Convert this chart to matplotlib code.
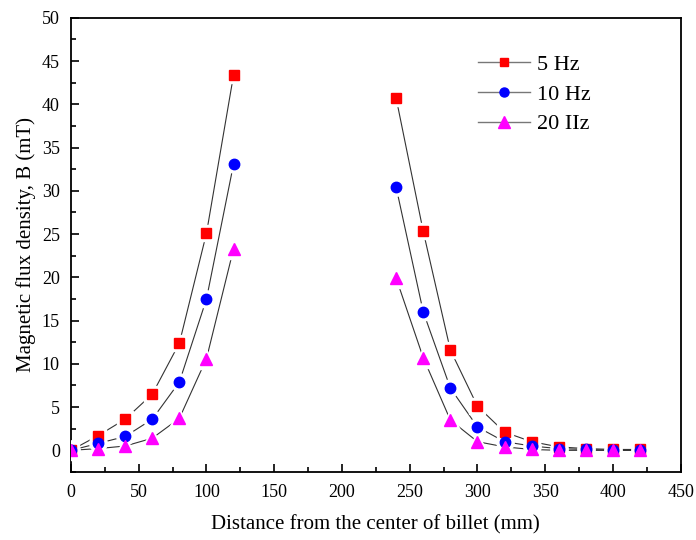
import matplotlib
matplotlib.use("Agg")
import matplotlib.pyplot as plt
from matplotlib.ticker import MultipleLocator

plt.rcParams['font.family'] = ['Liberation Serif', 'DejaVu Serif']

x_left = [0, 20, 40, 60, 80, 100, 120]
x_right = [240, 260, 280, 300, 320, 340, 360, 380, 400, 420]

b5_left = [0.0, 1.7, 3.6, 6.5, 12.4, 25.1, 43.4]
b5_right = [40.7, 25.3, 11.6, 5.1, 2.1, 1.0, 0.4, 0.2, 0.1, 0.1]
b10_left = [0.0, 0.8, 1.6, 3.6, 7.9, 17.5, 33.1]
b10_right = [30.4, 16.0, 7.2, 2.7, 1.0, 0.5, 0.2, 0.1, 0.0, 0.0]
b20_left = [0.0, 0.2, 0.5, 1.4, 3.7, 10.6, 23.3]
b20_right = [19.9, 10.7, 3.5, 1.0, 0.4, 0.1, 0.0, 0.0, 0.0, 0.0]

labels = ['5 Hz', '10 Hz', '20 IIz']
series = [(b5_left, b5_right), (b10_left, b10_right), (b20_left, b20_right)]
colors = ['#FF0000', '#0000FF', '#FF00FF']
markers = ['s', 'o', '^']
msizes = [7, 7.5, 9]
leg_msizes = [6, 6.5, 8]

fig = plt.figure(figsize=(6.96, 5.4), dpi=100)
ax = fig.add_axes([0.102, 0.126, 0.876, 0.841])

# lines with white halos (gaps around markers)
for (yl, yr), m, ms in zip(series, markers, msizes):
    for xs, ys in ((x_left, yl), (x_right, yr)):
        ax.plot(xs, ys, color='#333333', lw=0.8, zorder=2)
        ax.plot(xs, ys, ls='none', marker=m, ms=ms + 5, mfc='white', mec='white', zorder=3)
handles = []
for (yl, yr), c, m, ms, lms, lab in zip(series, colors, markers, msizes, leg_msizes, labels):
    for xs, ys in ((x_left, yl), (x_right, yr)):
        ax.plot(xs, ys, ls='none', marker=m, ms=ms, mfc=c, mec=c, zorder=4)
    h, = ax.plot([], [], color='#777777', lw=1.0, marker=m, ms=lms, mfc=c, mec=c, label=lab)
    handles.append(h)

ax.set_xlim(0, 450)
ax.set_ylim(-2.5, 50)
ax.xaxis.set_major_locator(MultipleLocator(50))
ax.xaxis.set_minor_locator(MultipleLocator(25))
ax.yaxis.set_major_locator(MultipleLocator(5))
ax.yaxis.set_minor_locator(MultipleLocator(2.5))
ax.tick_params(which='both', direction='in', top=False, right=False, labelsize=13, width=1.2)
ax.tick_params(which='major', length=6)
ax.tick_params(which='minor', length=3.5)
ax.tick_params(axis='x', pad=9)
ax.tick_params(axis='y', pad=8)
for s in ax.spines.values():
    s.set_linewidth(1.3)

ax.set_xlabel('Distance from the center of billet (mm)', fontsize=15, labelpad=10)
ax.set_ylabel('Magnetic flux density, B (mT)', fontsize=15, labelpad=4)

ax.legend(handles=handles, loc='upper left', bbox_to_anchor=(0.667, 0.92), frameon=False,
          borderpad=0, borderaxespad=0,
          fontsize=16, handlelength=2.35, labelspacing=0.42, handletextpad=0.3)

fig.savefig('out.png', dpi=100)
